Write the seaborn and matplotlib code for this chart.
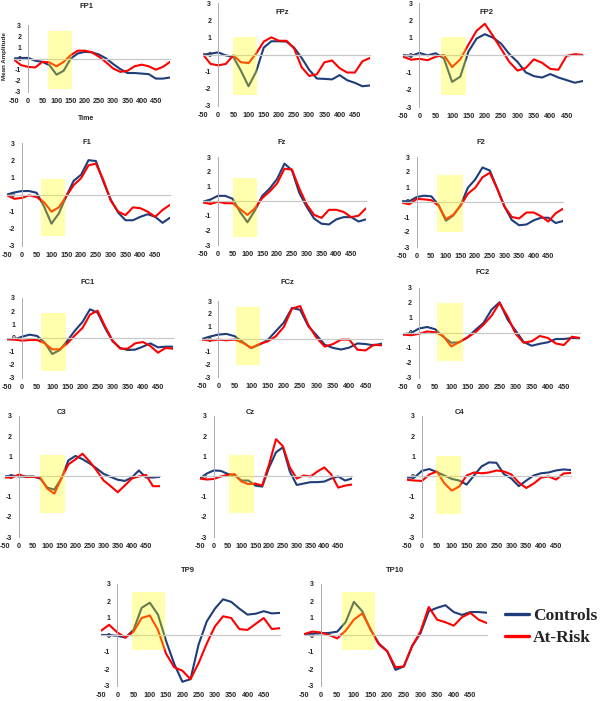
import matplotlib
matplotlib.use("Agg")
import matplotlib.pyplot as plt
import seaborn as sns
from matplotlib.lines import Line2D
from matplotlib import font_manager

# time axis (ms) and grand-average amplitudes
times = [-50, -25, 0, 25, 50, 75, 100, 125, 150, 175, 200, 225,
         250, 275, 300, 325, 350, 375, 400, 425, 450, 475, 500]
x_ticks = [-50, 0, 50, 100, 150, 200, 250, 300, 350, 400, 450]
y_ticks = [-3, -2, -1, 0, 1, 2, 3]

fp1_ctrl = [0.0, 0.05, 0.05, -0.2, -0.3, -0.6, -1.45, -1.1, 0.0, 0.45, 0.6, 0.55, 0.35, 0.0, -0.5, -0.95, -1.3, -1.3, -1.35, -1.4, -1.8, -1.8, -1.7]
fp1_risk = [-0.1, -0.6, -0.75, -0.8, -0.3, -0.35, -0.7, -0.3, 0.3, 0.7, 0.7, 0.55, 0.15, -0.35, -0.9, -1.2, -1.1, -0.7, -0.55, -0.7, -1.0, -0.75, -0.3]
fpz_ctrl = [0.0, 0.05, 0.12, -0.05, -0.15, -0.95, -1.85, -1.0, 0.4, 0.77, 0.77, 0.75, 0.4, -0.2, -0.9, -1.4, -1.42, -1.45, -1.2, -1.5, -1.65, -1.85, -1.8]
fpz_risk = [0.0, -0.55, -0.63, -0.55, -0.05, -0.45, -0.5, 0.05, 0.75, 1.0, 0.8, 0.8, 0.35, -0.75, -1.25, -1.15, -0.45, -0.35, -0.8, -1.05, -1.05, -0.4, -0.2]
fp2_ctrl = [0.0, -0.05, 0.12, -0.02, 0.1, -0.2, -1.55, -1.25, 0.2, 0.95, 1.2, 1.0, 0.65, 0.05, -0.4, -1.0, -1.22, -1.3, -1.1, -1.3, -1.45, -1.6, -1.5]
fp2_risk = [-0.1, -0.27, -0.22, -0.3, -0.1, 0.0, -0.7, -0.25, 0.6, 1.4, 1.8, 1.1, 0.35, -0.4, -0.9, -0.75, -0.25, -0.45, -0.8, -0.85, -0.05, 0.05, 0.0]
f1_ctrl = [0.0, 0.12, 0.2, 0.2, 0.1, -0.7, -1.7, -1.1, -0.1, 0.8, 1.15, 2.0, 1.95, 0.75, -0.3, -1.05, -1.5, -1.5, -1.3, -1.15, -1.3, -1.65, -1.35]
f1_risk = [-0.05, -0.25, -0.2, -0.05, -0.15, -0.45, -1.0, -0.75, -0.1, 0.55, 0.95, 1.7, 1.8, 0.85, -0.35, -1.0, -1.2, -0.75, -0.8, -1.0, -1.3, -0.9, -0.6]
fz_ctrl = [-0.05, 0.1, 0.35, 0.35, 0.15, -0.75, -1.45, -0.65, 0.35, 0.85, 1.5, 2.55, 2.1, 0.55, -0.4, -1.2, -1.55, -1.6, -1.25, -1.1, -1.1, -1.4, -1.25]
fz_risk = [-0.1, -0.2, -0.05, -0.15, -0.15, -0.55, -0.95, -0.5, 0.2, 0.65, 1.2, 2.2, 2.15, 0.85, -0.25, -0.95, -1.15, -0.6, -0.6, -0.75, -1.1, -1.0, -0.5]
f2_ctrl = [0.05, 0.05, 0.33, 0.42, 0.38, -0.2, -1.25, -0.9, -0.22, 0.95, 1.5, 2.3, 2.1, 0.9, -0.3, -1.2, -1.55, -1.5, -1.22, -1.05, -1.05, -1.4, -1.27]
f2_risk = [-0.05, -0.15, 0.2, 0.18, 0.12, -0.25, -1.15, -0.85, -0.25, 0.55, 0.95, 1.65, 1.95, 0.9, -0.3, -1.0, -1.1, -0.7, -0.7, -0.95, -1.3, -0.75, -0.45]
fc1_ctrl = [-0.1, -0.1, 0.1, 0.25, 0.15, -0.35, -1.2, -0.9, -0.2, 0.55, 1.2, 2.15, 1.9, 0.75, -0.25, -0.75, -0.9, -0.87, -0.65, -0.4, -0.7, -0.65, -0.65]
fc1_risk = [-0.07, -0.12, -0.2, -0.15, -0.15, -0.4, -0.85, -0.85, -0.4, 0.2, 0.75, 1.75, 2.05, 0.87, -0.2, -0.8, -0.8, -0.4, -0.3, -0.6, -1.1, -0.75, -0.8]
fcz_ctrl = [0.0, 0.2, 0.35, 0.4, 0.22, -0.25, -0.72, -0.45, -0.1, 0.6, 1.3, 2.45, 2.3, 1.0, 0.3, -0.45, -0.7, -0.83, -0.68, -0.35, -0.4, -0.5, -0.36]
fcz_risk = [-0.05, -0.12, -0.05, -0.1, -0.05, -0.3, -0.7, -0.4, -0.2, 0.2, 0.95, 2.4, 2.6, 1.1, 0.1, -0.6, -0.4, -0.05, -0.05, -0.85, -0.9, -0.45, -0.5]
fc2_ctrl = [-0.1, 0.0, 0.3, 0.4, 0.25, -0.25, -0.65, -0.62, -0.3, 0.2, 0.67, 1.55, 2.05, 0.9, 0.15, -0.6, -0.85, -0.72, -0.62, -0.4, -0.4, -0.33, -0.35]
fc2_risk = [-0.1, -0.15, -0.05, 0.1, 0.05, -0.2, -0.9, -0.6, -0.3, 0.05, 0.55, 1.15, 2.0, 1.1, -0.05, -0.65, -0.55, -0.2, -0.33, -0.7, -0.8, -0.25, -0.33]
c3_ctrl = [0.0, 0.05, 0.0, 0.0, 0.0, -0.1, -0.55, -0.65, -0.1, 0.8, 1.02, 0.86, 0.65, 0.4, 0.13, -0.02, -0.16, -0.22, -0.05, 0.3, -0.05, -0.05, -0.02]
c3_risk = [-0.05, -0.05, 0.1, -0.03, -0.02, -0.05, -0.6, -0.85, -0.1, 0.6, 0.85, 1.13, 0.75, 0.3, -0.2, -0.48, -0.78, -0.45, -0.1, 0.0, 0.08, -0.48, -0.48]
cz_ctrl = [-0.1, 0.15, 0.3, 0.28, 0.13, 0.05, -0.2, -0.2, -0.45, -0.5, 0.45, 1.2, 1.45, 0.25, -0.42, -0.35, -0.28, -0.28, -0.25, -0.1, 0.0, -0.2, -0.1]
cz_risk = [-0.1, -0.15, -0.12, 0.0, 0.08, 0.12, -0.25, -0.38, -0.35, -0.45, 0.6, 1.85, 1.5, 0.45, -0.1, 0.05, 0.0, 0.25, 0.45, 0.1, -0.55, -0.45, -0.4]
c4_ctrl = [-0.05, -0.05, 0.28, 0.37, 0.22, 0.05, -0.12, -0.2, -0.4, 0.05, 0.5, 0.7, 0.68, 0.12, -0.1, -0.48, -0.2, 0.05, 0.16, 0.2, 0.3, 0.35, 0.32]
c4_risk = [-0.16, -0.2, -0.22, 0.1, 0.25, -0.33, -0.7, -0.5, 0.05, 0.2, 0.16, 0.2, 0.3, 0.25, 0.1, -0.3, -0.57, -0.35, -0.05, 0.0, -0.15, 0.15, 0.18]
tp9_ctrl = [0.0, 0.0, -0.05, -0.15, 0.3, 1.6, 1.9, 1.2, -0.35, -1.7, -2.75, -2.6, -0.55, 0.8, 1.55, 2.1, 1.95, 1.55, 1.2, 1.25, 1.4, 1.27, 1.3]
tp9_risk = [0.25, 0.6, 0.15, -0.15, 0.2, 1.0, 1.15, 0.3, -1.1, -1.9, -2.1, -2.6, -1.65, -0.5, 0.5, 1.1, 1.0, 0.35, 0.3, 0.65, 1.0, 0.35, 0.4]
tp10_ctrl = [0.05, 0.08, 0.1, 0.12, 0.2, 0.75, 1.95, 1.4, 0.3, -0.5, -0.95, -2.05, -1.85, -0.65, 0.1, 1.4, 1.6, 1.75, 1.35, 1.18, 1.35, 1.35, 1.31]
tp10_risk = [0.05, 0.2, 0.15, 0.0, -0.2, 0.25, 0.9, 1.27, 0.35, -0.55, -0.95, -1.9, -1.85, -0.65, 0.2, 1.65, 0.9, 0.75, 0.55, 1.05, 1.3, 0.9, 0.7]

# highlighted analysis window per channel: start ms, end ms, low, high
fp1_win = [70, 156, -2.75, 2.45]
fpz_win = [50, 128, -2.36, 1.03]
fp2_win = [65, 142, -2.32, 1.05]
f1_win = [66, 146, -2.43, 0.93]
fz_win = [51, 133, -2.45, 1.57]
f2_win = [71, 160, -2.0, 1.82]
fc1_win = [62, 144, -2.45, 1.87]
fcz_win = [54, 128, -2.08, 2.5]
fc2_win = [57, 137, -1.9, 2.0]
c3_win = [74, 162, -1.82, 1.06]
cz_win = [54, 145, -1.82, 1.06]
c4_win = [47, 130, -1.87, 1.0]
tp9_win = [46, 147, -0.88, 2.55]
tp10_win = [65, 163, -0.88, 2.55]

channels = [
    ("FP1", fp1_ctrl, fp1_risk, fp1_win),
    ("FPz", fpz_ctrl, fpz_risk, fpz_win),
    ("FP2", fp2_ctrl, fp2_risk, fp2_win),
    ("F1", f1_ctrl, f1_risk, f1_win),
    ("Fz", fz_ctrl, fz_risk, fz_win),
    ("F2", f2_ctrl, f2_risk, f2_win),
    ("FC1", fc1_ctrl, fc1_risk, fc1_win),
    ("FCz", fcz_ctrl, fcz_risk, fcz_win),
    ("FC2", fc2_ctrl, fc2_risk, fc2_win),
    ("C3", c3_ctrl, c3_risk, c3_win),
    ("Cz", cz_ctrl, cz_risk, cz_win),
    ("C4", c4_ctrl, c4_risk, c4_win),
    ("TP9", tp9_ctrl, tp9_risk, tp9_win),
    ("TP10", tp10_ctrl, tp10_risk, tp10_win),
]

# layout in pixels: plot box (left, right, top, bottom) and title centre
boxes = {
    "FP1": (14, 170, 25, 92), "FPz": (203, 370, 3, 106), "FP2": (403, 583, 3, 107),
    "F1": (7, 170, 143, 246), "Fz": (203, 366, 157, 245), "F2": (402, 563, 157, 247),
    "FC1": (7, 173, 298, 378), "FCz": (202, 382, 301, 377), "FC2": (403, 580, 288, 378),
    "C3": (5, 160, 416, 537), "Cz": (200, 352, 416, 537), "C4": (407, 571, 416, 537),
    "TP9": (101, 280, 584, 686), "TP10": (304, 487, 584, 686),
}
title_pos = {
    "FP1": (86, 6), "FPz": (282, 13), "FP2": (486, 13),
    "F1": (87, 143), "Fz": (282, 143), "F2": (481, 143),
    "FC1": (88, 282), "FCz": (287, 282), "FC2": (483, 273),
    "C3": (62, 412), "Cz": (250, 412), "C4": (460, 412),
    "TP9": (188, 570), "TP10": (395, 570),
}

NAVY = "#1F3D78"
RED = "#FF0000"
GREY = "#ABABAB"

sns.set_style("white")
plt.rcParams["font.family"] = ["Liberation Sans", "DejaVu Sans"]

# a narrow face keeps the crowded time labels apart, as in the original
installed = {f.name for f in font_manager.fontManager.ttflist}
tick_family = "Liberation Sans Narrow" if "Liberation Sans Narrow" in installed else "Liberation Sans"

W, H = 600, 701
fig = plt.figure(figsize=(6, 7.01), dpi=100)


def px_axes(left, right, top, bottom):
    return fig.add_axes([left / W, 1 - bottom / H, (right - left) / W, (bottom - top) / H])


for name, ctrl, risk, win in channels:
    ax = px_axes(*boxes[name])
    sns.lineplot(x=times, y=ctrl, ax=ax, color=NAVY, linewidth=1.5, zorder=2)
    sns.lineplot(x=times, y=risk, ax=ax, color=RED, linewidth=1.5, zorder=2)
    ax.fill_between([win[0], win[1]], win[2], win[3], color="#FFFF00",
                    alpha=0.32, linewidth=0, zorder=3)
    ax.set_xlim(-50, 500)
    ax.set_ylim(-3, 3)
    ax.set_xlabel("")
    ax.set_ylabel("")
    ax.patch.set_alpha(0)

    for side in ("top", "right"):
        ax.spines[side].set_visible(False)
    ax.spines["left"].set_position(("data", 0))
    ax.spines["bottom"].set_position(("data", 0))
    ax.spines["left"].set_color(GREY)
    ax.spines["bottom"].set_color("#C8C8C8")
    ax.spines["left"].set_linewidth(0.7)
    ax.spines["bottom"].set_linewidth(0.9)

    ax.set_xticks(x_ticks)
    ax.tick_params(axis="x", length=2, color="#C8C8C8", labelbottom=False)
    ax.set_yticks(y_ticks)
    ax.set_yticklabels([str(v) for v in y_ticks], fontsize=5, fontweight="bold",
                       family=tick_family)
    ax.tick_params(axis="y", length=2, color=GREY, pad=3)

    sec = ax.secondary_xaxis("bottom")
    sec.set_xticks(x_ticks)
    sec.set_xticklabels([str(v) for v in x_ticks], fontsize=5.2, fontweight="bold",
                        family=tick_family)
    sec.tick_params(length=0, pad=4)
    sec.spines["bottom"].set_visible(False)

    tx, ty = title_pos[name]
    fig.text(tx / W, 1 - ty / H, name, ha="center", va="center",
             fontsize=5.5, fontweight="bold")

fig.text(5 / W, 1 - 56 / H, "Mean Amplitude", rotation=90, ha="center",
         va="center", fontsize=4.5, fontweight="bold")
fig.text(86 / W, 1 - 118 / H, "Time", ha="center", va="center",
         fontsize=5, fontweight="bold")

handles = [Line2D([], [], color=NAVY, linewidth=2.4),
           Line2D([], [], color=RED, linewidth=2.4)]
fig.legend(handles, ["Controls", "At-Risk"], loc="center left",
           bbox_to_anchor=(505 / W, 1 - 627 / H), frameon=False,
           prop={"family": "Liberation Serif", "weight": "bold", "size": 12.5},
           handlelength=1.4, handletextpad=0.2, labelspacing=0.35,
           borderpad=0, borderaxespad=0)

fig.savefig("out.png", dpi=100)
plt.close(fig)
